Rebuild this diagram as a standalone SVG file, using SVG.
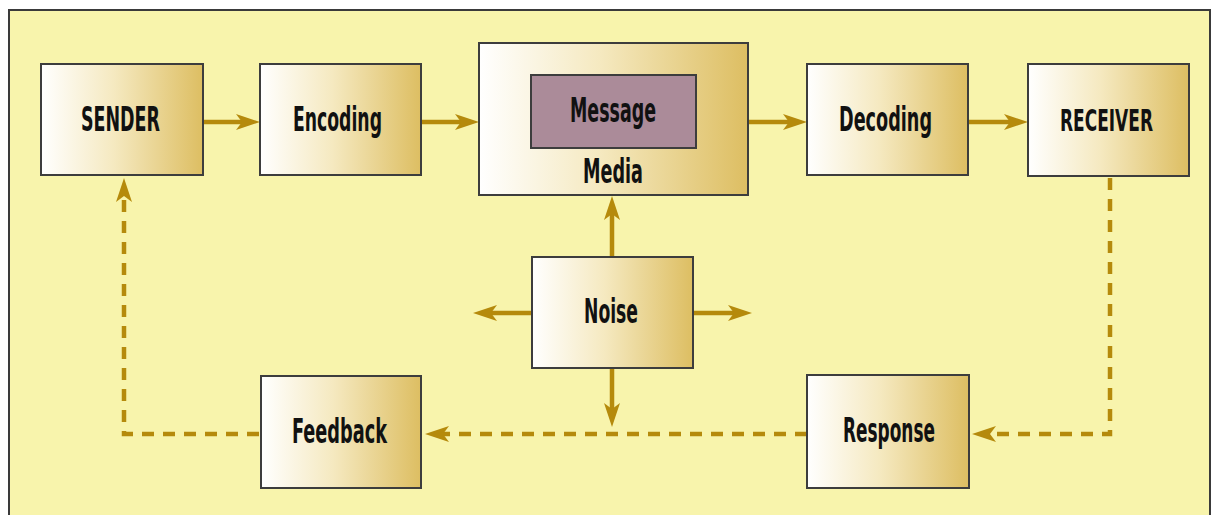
<svg xmlns="http://www.w3.org/2000/svg" width="1214" height="515" viewBox="0 0 1214 515">
<style>
.box{stroke:#3d3d3d;stroke-width:2;fill:url(#g)}
.lbl{font-family:"DejaVu Sans Condensed","Liberation Sans Narrow","Liberation Sans",sans-serif;font-weight:bold;font-size:33px;fill:#111;text-anchor:start}
.c{fill:none;stroke:#B58A0C;stroke-width:4.5}
.d{stroke-dasharray:12 9}
</style>
<defs>
<linearGradient id="g" x1="0" y1="0" x2="1" y2="0">
<stop offset="0" stop-color="#FFFFFF"/>
<stop offset="0.45" stop-color="#F5E9C0"/>
<stop offset="1" stop-color="#DDBE62"/>
</linearGradient>
<marker id="a" markerUnits="userSpaceOnUse" markerWidth="24" markerHeight="16" viewBox="0 0 24 16" refX="12" refY="8" orient="auto">
<path d="M0,0 L24,8 L0,16 L6,8 Z" fill="#B58A0C"/>
</marker>
</defs>
<rect x="0" y="0" width="1214" height="515" fill="#FFFFFF"/>
<rect x="9" y="10" width="1201" height="520" fill="#F8F4AC" stroke="#3a3a3a" stroke-width="2"/>
<g id="connectors">
<line class="c" x1="203" y1="122" x2="248" y2="122" marker-end="url(#a)"/>
<line class="c" x1="421" y1="122" x2="467" y2="122" marker-end="url(#a)"/>
<line class="c" x1="748" y1="122" x2="795" y2="122" marker-end="url(#a)"/>
<line class="c" x1="968" y1="122" x2="1016" y2="122" marker-end="url(#a)"/>
<line class="c" x1="612" y1="257" x2="612" y2="208" marker-end="url(#a)"/>
<line class="c" x1="532" y1="313" x2="485" y2="313" marker-end="url(#a)"/>
<line class="c" x1="693" y1="313" x2="740" y2="313" marker-end="url(#a)"/>
<line class="c" x1="612" y1="368" x2="612" y2="415" marker-end="url(#a)"/>
<polyline class="c d" points="1110,178 1110,434 984,434" marker-end="url(#a)"/>
<polyline class="c d" points="807,434 437,434" marker-end="url(#a)"/>
<polyline class="c d" points="259,434 124,434 124,190" marker-end="url(#a)"/>
</g>
<g id="sender"><rect class="box" x="41" y="64" width="162" height="111"/><text class="lbl" x="81" y="131" textLength="79" lengthAdjust="spacingAndGlyphs">SENDER</text></g>
<g id="encoding"><rect class="box" x="260" y="64" width="161" height="111"/><text class="lbl" x="293" y="131" textLength="89" lengthAdjust="spacingAndGlyphs">Encoding</text></g>
<g id="media"><rect class="box" x="479" y="43" width="269" height="152"/><text class="lbl" x="583" y="183" textLength="60" lengthAdjust="spacingAndGlyphs">Media</text></g>
<g id="message"><rect x="531" y="75" width="165" height="73" fill="#AB8B99" stroke="#3d3d3d" stroke-width="2"/><text class="lbl" x="570" y="122" textLength="86" lengthAdjust="spacingAndGlyphs">Message</text></g>
<g id="decoding"><rect class="box" x="807" y="64" width="161" height="111"/><text class="lbl" x="839" y="131" textLength="93" lengthAdjust="spacingAndGlyphs">Decoding</text></g>
<g id="receiver"><rect class="box" x="1028" y="64" width="161" height="112"/><text class="lbl" x="1060" y="131" style="font-size:31px" textLength="93" lengthAdjust="spacingAndGlyphs">RECEIVER</text></g>
<g id="noise"><rect class="box" x="532" y="257" width="161" height="111"/><text class="lbl" x="584" y="323" textLength="54" lengthAdjust="spacingAndGlyphs">Noise</text></g>
<g id="feedback"><rect class="box" x="261" y="376" width="160" height="112"/><text class="lbl" x="292" y="443" textLength="95" lengthAdjust="spacingAndGlyphs">Feedback</text></g>
<g id="response"><rect class="box" x="807" y="375" width="162" height="113"/><text class="lbl" x="843" y="442" textLength="92" lengthAdjust="spacingAndGlyphs">Response</text></g>
</svg>
